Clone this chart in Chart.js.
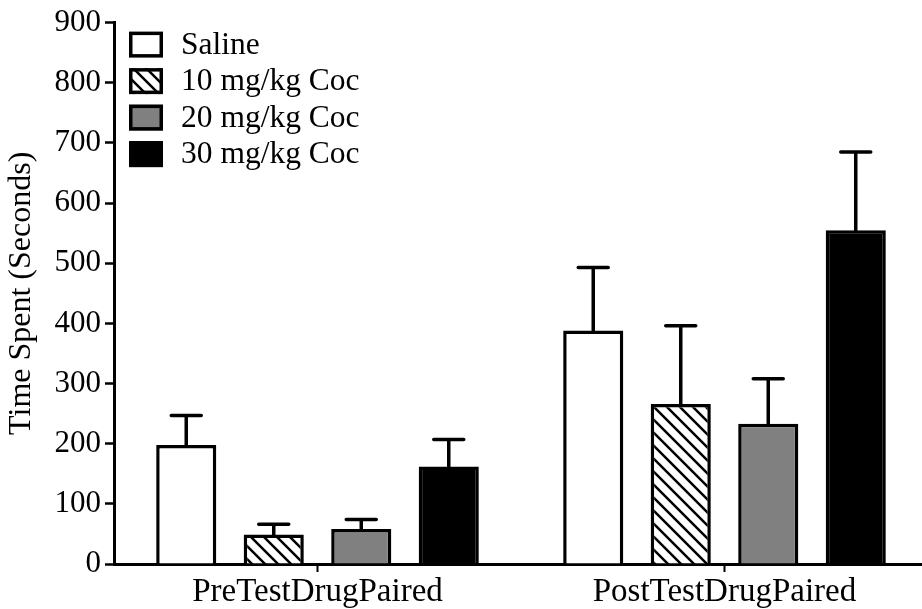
<!DOCTYPE html>
<html>
<head>
<meta charset="utf-8">
<script src="https://cdn.jsdelivr.net/npm/chart.js@4.4.0/dist/chart.umd.min.js"></script>
<style>
  html, body { margin: 0; padding: 0; background: #fff; overflow: hidden; }
  #wrap { width: 928px; height: 609px; }
</style>
</head>
<body>
<div id="wrap"><canvas id="cppChart"></canvas></div>
<script>
// --- Data ---
const phases = ['PreTestDrugPaired', 'PostTestDrugPaired'];
const groupNames = ['Saline', '10 mg/kg Coc', '20 mg/kg Coc', '30 mg/kg Coc'];
const salineMean = [198, 388];
const salineSem = [49, 105];
const coc10Mean = [49, 266];
const coc10Sem = [17, 130];
const coc20Mean = [58, 233];
const coc20Sem = [16, 75];
const coc30Mean = [162, 555];
const coc30Sem = [45, 130];
const yTicks = [0, 100, 200, 300, 400, 500, 600, 700, 800, 900];

const serif = '"Liberation Serif", "Times New Roman", serif';

// --- Hatch pattern for the 10 mg/kg bars ---
function makeHatch() {
  const size = 13;
  const c = document.createElement('canvas');
  c.width = size; c.height = size;
  const g = c.getContext('2d');
  g.fillStyle = '#fff';
  g.fillRect(0, 0, size, size);
  g.strokeStyle = '#000';
  g.lineWidth = 2.5;
  g.beginPath();
  g.moveTo(-2, -2); g.lineTo(size + 2, size + 2);
  g.moveTo(-2, size - 2); g.lineTo(2, size + 2);
  g.moveTo(size - 2, -2); g.lineTo(size + 2, 2);
  g.stroke();
  return g.createPattern(c, 'repeat');
}
const hatch = makeHatch();

// --- Error bars (upper side only) ---
const errorBars = {
  id: 'errorBars',
  afterDatasetsDraw(chart) {
    const { ctx, scales: { y } } = chart;
    ctx.save();
    ctx.strokeStyle = '#000';
    ctx.lineWidth = 3.5;
    ctx.lineCap = 'round';
    chart.data.datasets.forEach((ds, i) => {
      chart.getDatasetMeta(i).data.forEach((bar, j) => {
        const top = y.getPixelForValue(ds.data[j] + ds.sem[j]);
        ctx.beginPath();
        ctx.moveTo(bar.x, bar.y);
        ctx.lineTo(bar.x, top);
        ctx.moveTo(bar.x - 15, top);
        ctx.lineTo(bar.x + 15, top);
        ctx.stroke();
      });
    });
    ctx.restore();
  }
};

// --- Legend drawn inside the plot, top left ---
const insideLegend = {
  id: 'insideLegend',
  afterDraw(chart) {
    const { ctx, chartArea } = chart;
    const x = chartArea.left + 15;
    let yTop = chartArea.top + 9;
    ctx.save();
    ctx.font = '31.5px ' + serif;
    ctx.textBaseline = 'middle';
    chart.data.datasets.forEach(ds => {
      ctx.fillStyle = ds.backgroundColor;
      ctx.fillRect(x, yTop, 34, 26);
      ctx.strokeStyle = '#000';
      ctx.lineWidth = 3.5;
      ctx.strokeRect(x + 1.75, yTop + 1.75, 30.5, 22.5);
      ctx.fillStyle = '#000';
      ctx.fillText(ds.label, x + 52, yTop + 14);
      yTop += 36.5;
    });
    ctx.restore();
  }
};

const dataset = (label, data, sem, fill) => ({
  label, data, sem,
  backgroundColor: fill,
  borderColor: '#000',
  borderWidth: 3.5,
  borderSkipped: 'start',
  categoryPercentage: 0.86,
  barPercentage: 0.687
});

new Chart(document.getElementById('cppChart'), {
  type: 'bar',
  data: {
    labels: phases,
    datasets: [
      dataset(groupNames[0], salineMean, salineSem, '#ffffff'),
      dataset(groupNames[1], coc10Mean, coc10Sem, hatch),
      dataset(groupNames[2], coc20Mean, coc20Sem, '#808080'),
      dataset(groupNames[3], coc30Mean, coc30Sem, '#000000')
    ]
  },
  options: {
    responsive: true,
    maintainAspectRatio: false,
    animation: false,
    layout: { padding: { top: 18, left: 0, right: 0, bottom: 0 } },
    plugins: {
      legend: { display: false },
      tooltip: { enabled: false }
    },
    scales: {
      x: {
        grid: {
          offset: false,
          drawOnChartArea: false,
          tickLength: 8,
          tickWidth: 2,
          tickColor: '#000'
        },
        border: { color: '#000', width: 3 },
        ticks: { color: '#000', padding: 1, font: { family: serif, size: 33 } },
        afterFit(scale) { scale.height = 45; }
      },
      y: {
        min: 0,
        max: 900,
        afterBuildTicks(scale) { scale.ticks = yTicks.map(v => ({ value: v })); },
        grid: {
          drawOnChartArea: false,
          tickLength: 9,
          tickWidth: 2.5,
          tickColor: '#000'
        },
        border: { color: '#000', width: 3 },
        ticks: { color: '#000', padding: 4, font: { family: serif, size: 31 } },
        title: {
          display: true,
          text: 'Time Spent (Seconds)',
          color: '#000',
          padding: { top: 2, bottom: 0 },
          font: { family: serif, size: 32 }
        },
        afterFit(scale) { scale.width = 114; }
      }
    }
  },
  plugins: [errorBars, insideLegend]
});
</script>
</body>
</html>
